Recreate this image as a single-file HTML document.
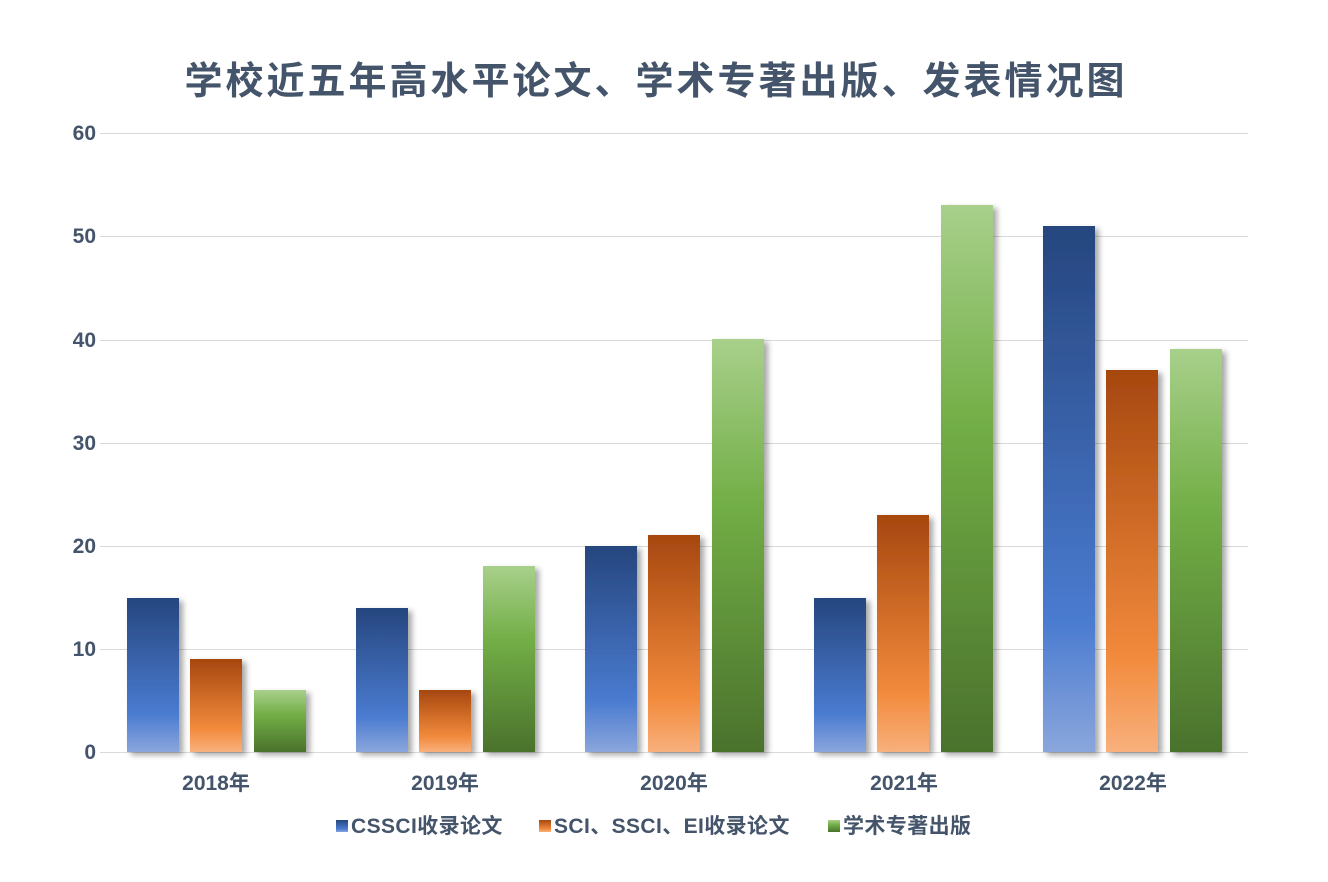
<!DOCTYPE html>
<html><head><meta charset="utf-8"><style>body{margin:0;background:#fff}svg{display:block}text{font-family:"Liberation Sans","Noto Sans CJK SC",sans-serif;fill:#44546a}</style></head><body>
<svg width="1328" height="882" viewBox="0 0 1328 882">
<defs>
<linearGradient id="b" x1="0" y1="0" x2="0" y2="1"><stop offset="0" stop-color="#26467e"/><stop offset="0.75" stop-color="#4a7bd0"/><stop offset="1" stop-color="#8aa6dc"/></linearGradient>
<linearGradient id="o" x1="0" y1="0" x2="0" y2="1"><stop offset="0" stop-color="#a6470f"/><stop offset="0.75" stop-color="#f28a3c"/><stop offset="1" stop-color="#f8b07c"/></linearGradient>
<linearGradient id="g" x1="0" y1="0" x2="0" y2="1"><stop offset="0" stop-color="#a8d08b"/><stop offset="0.4" stop-color="#72ae46"/><stop offset="1" stop-color="#4a722c"/></linearGradient>
<filter id="s" x="-20%" y="-5%" width="150%" height="115%"><feDropShadow dx="4" dy="3" stdDeviation="3" flood-color="#000" flood-opacity="0.35"/></filter>
</defs>
<text x="656" y="94" text-anchor="middle" font-size="38" font-weight="bold" letter-spacing="3">学校近五年高水平论文、学术专著出版、发表情况图</text>
<g stroke="#d9d9d9" stroke-width="1">
<line x1="100" x2="1248" y1="133.5" y2="133.5"/><line x1="100" x2="1248" y1="236.5" y2="236.5"/><line x1="100" x2="1248" y1="340.5" y2="340.5"/><line x1="100" x2="1248" y1="443.5" y2="443.5"/><line x1="100" x2="1248" y1="546.5" y2="546.5"/><line x1="100" x2="1248" y1="649.5" y2="649.5"/><line x1="100" x2="1248" y1="752.5" y2="752.5"/>
</g>
<g font-size="21" font-weight="bold" text-anchor="end">
<text x="96" y="140">60</text><text x="96" y="243">50</text><text x="96" y="347">40</text><text x="96" y="450">30</text><text x="96" y="553">20</text><text x="96" y="656">10</text><text x="96" y="759">0</text>
</g>
<g filter="url(#s)">
<rect x="127" y="598" width="52" height="154" fill="url(#b)"/><rect x="190" y="659" width="52" height="93" fill="url(#o)"/><rect x="254" y="690" width="52" height="62" fill="url(#g)"/>
<rect x="356" y="608" width="52" height="144" fill="url(#b)"/><rect x="419" y="690" width="52" height="62" fill="url(#o)"/><rect x="483" y="566" width="52" height="186" fill="url(#g)"/>
<rect x="585" y="546" width="52" height="206" fill="url(#b)"/><rect x="648" y="535" width="52" height="217" fill="url(#o)"/><rect x="712" y="339" width="52" height="413" fill="url(#g)"/>
<rect x="814" y="598" width="52" height="154" fill="url(#b)"/><rect x="877" y="515" width="52" height="237" fill="url(#o)"/><rect x="941" y="205" width="52" height="547" fill="url(#g)"/>
<rect x="1043" y="226" width="52" height="526" fill="url(#b)"/><rect x="1106" y="370" width="52" height="382" fill="url(#o)"/><rect x="1170" y="349" width="52" height="403" fill="url(#g)"/>
</g>
<g font-size="21" font-weight="bold" text-anchor="middle">
<text x="216" y="790">2018年</text><text x="445" y="790">2019年</text><text x="674" y="790">2020年</text><text x="904" y="790">2021年</text><text x="1133" y="790">2022年</text>
</g>
<g font-size="21" font-weight="bold">
<rect x="336" y="820" width="12" height="12" fill="url(#b)"/><text x="351" y="833" letter-spacing="0.4">CSSCI收录论文</text>
<rect x="539" y="820" width="12" height="12" fill="url(#o)"/><text x="554" y="833" letter-spacing="0.4">SCI、SSCI、EI收录论文</text>
<rect x="828" y="820" width="12" height="12" fill="url(#g)"/><text x="843" y="833" letter-spacing="0.4">学术专著出版</text>
</g>
</svg>
</body></html>
